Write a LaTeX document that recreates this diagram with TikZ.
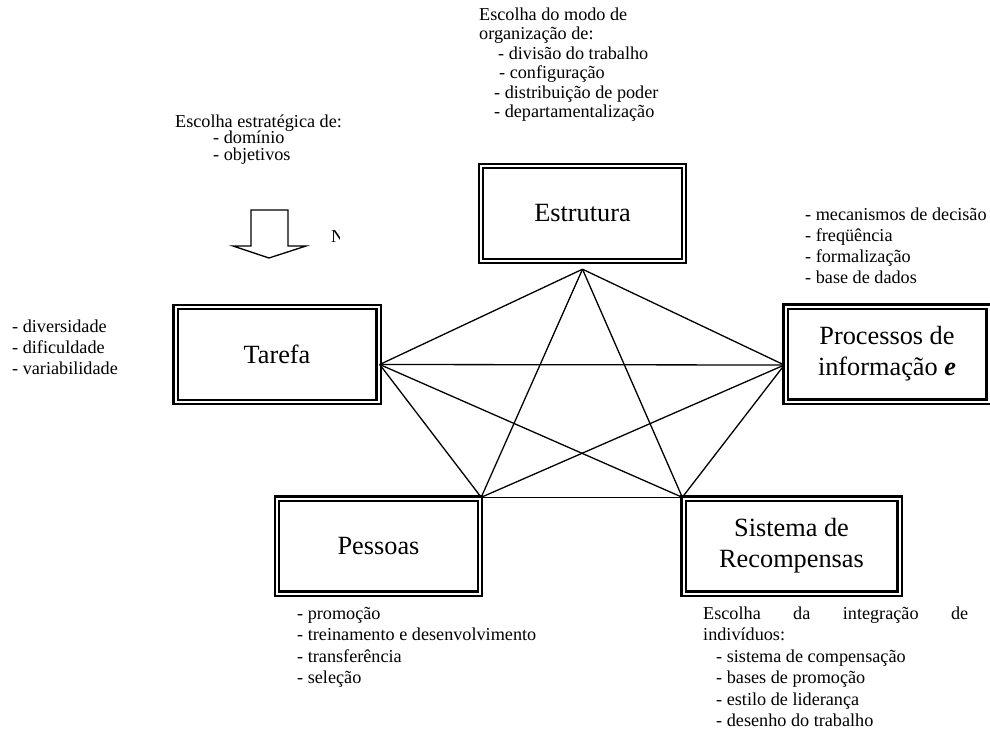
\documentclass[tikz,border=0pt]{standalone}
\usepackage{fontspec}
\setmainfont{Liberation Serif}
\usetikzlibrary{positioning}

\newcommand{\bigtxt}{\fontsize{26.3pt}{31pt}\selectfont}
\newcommand{\notetxt}[1]{\fontsize{18.2pt}{#1}\selectfont}

\begin{document}
\begin{tikzpicture}[
    x=1pt, y=-1pt,
    every node/.style={inner sep=0pt},
    block/.style={rectangle, draw=black, line width=2.4pt, double, double distance=2pt,
                  minimum width=203pt, minimum height=95pt, align=center, font=\bigtxt},
    note/.style={anchor=north west, align=left},
    link/.style={line width=1.3pt}
]
\useasboundingbox (0,0) rectangle (990,737);

% Blocos
\node (estrutura) [block] at (582.5,213.5) {Estrutura};
\node (tarefa) [block] at (277,354.5) {Tarefa};
\node (processos) [block] at (887,354) {Processos de\\informação \textbf{\textit{e}}};
\node (pessoas) [block] at (378.5,546) {Pessoas};
\node (sistema) [block, minimum width=216pt] at (791.5,546) {Sistema de\\Recompensas};

% Pontos de encontro
\coordinate (e) at ([yshift=-7pt]estrutura.south);
\coordinate (t) at ([yshift=-10pt]tarefa.east);
\coordinate (p) at ([yshift=-11pt]processos.west);
\coordinate (pe) at (pessoas.north east);
\coordinate (s) at (sistema.north west);

% Ligacoes
\foreach \a/\b in {e/t, e/p, e/pe, e/s, t/p, t/pe, t/s, p/pe, p/s, pe/s}
    \draw [link] (\a) -- (\b);

% Textos
\node (organizacao) [note, font=\notetxt{19.5pt}] at (479,7.6)
    {Escolha do modo de\\organização de:\\
     \hspace*{19pt}- divisão do trabalho\\
     \hspace*{20pt}- configuração\\
     \hspace*{15pt}- distribuição de poder\\
     \hspace*{15pt}- departamentalização};
\node (estrategia) [note, font=\notetxt{16.6pt}] at (175,114.4)
    {Escolha estratégica de:\\\hspace*{38pt}- domínio\\\hspace*{38pt}- objetivos};
\node (informacao) [note, font=\notetxt{21pt}] at (805,207.6)
    {- mecanismos de decisão\\- freqüência\\- formalização\\- base de dados};
\node (tarefas) [note, font=\notetxt{21pt}] at (12,319.6)
    {- diversidade\\- dificuldade\\- variabilidade};
\node (gestao) [note, font=\notetxt{21.5pt}] at (297,606.6)
    {- promoção\\- treinamento e desenvolvimento\\- transferência\\- seleção};
\node (integracao) [note, font=\notetxt{21.5pt}] at (703,606.6)
    {\makebox[265pt][s]{Escolha da integração de}\\indivíduos:\\
     \hspace*{13pt}- sistema de compensação\\
     \hspace*{13pt}- bases de promoção\\
     \hspace*{13pt}- estilo de liderança\\
     \hspace*{13pt}- desenho do trabalho};

% Seta larga
\draw [line width=1.3pt] (251,210) -- (288,210) -- (288,246) -- (306,246)
    -- (269,258) -- (233,246) -- (251,246) -- cycle;
\begin{scope}
  \clip (320,215) rectangle (339,250);
  \node (corte) [anchor=base west, font=\notetxt{21pt}] at (331,242) {N};
\end{scope}

\end{tikzpicture}
\end{document}
